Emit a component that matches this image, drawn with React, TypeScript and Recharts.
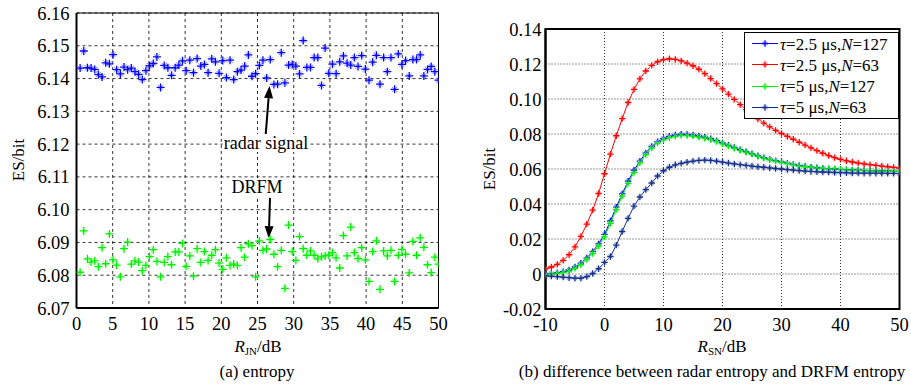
import React from "react";
import {
  ScatterChart,
  Scatter,
  LineChart,
  Line,
  XAxis,
  YAxis,
  CartesianGrid,
  ReferenceArea,
  ReferenceLine,
} from "recharts";

// (a) entropy of radar signal and DRFM vs R_JN
const RADAR_ES = [
  6.1432, 6.1484, 6.1433, 6.1432, 6.1428, 6.1412, 6.1405, 6.1448, 6.1445, 6.1473,
  6.1427, 6.1414, 6.1435, 6.1427, 6.1432, 6.1421, 6.1413, 6.1397, 6.1424, 6.1439,
  6.1446, 6.1466, 6.1373, 6.144, 6.1433, 6.141, 6.1433, 6.1441, 6.1454, 6.1424,
  6.1456, 6.1418, 6.1461, 6.1438, 6.1443, 6.1418, 6.146, 6.1451, 6.1416, 6.1455,
  6.1403, 6.1456, 6.1397, 6.1421, 6.1426, 6.1438, 6.1472, 6.1407, 6.1415, 6.144,
  6.1456, 6.1402, 6.1458, 6.1382, 6.1383, 6.1479, 6.1387, 6.1441, 6.1443, 6.1438,
  6.1414, 6.1516, 6.1434, 6.1434, 6.1464, 6.1464, 6.1379, 6.1493, 6.1416, 6.1444,
  6.1415, 6.1451, 6.1469, 6.1447, 6.1441, 6.1464, 6.1437, 6.147, 6.1429, 6.1395,
  6.145, 6.1471, 6.1383, 6.1464, 6.1421, 6.1464, 6.1367, 6.1475, 6.1443, 6.1455,
  6.1408, 6.1458, 6.1458, 6.1472, 6.1408, 6.1428, 6.1437, 6.1421, 6.1395,
];

const DRFM_ES = [
  6.0809, 6.0935, 6.085, 6.084, 6.0844, 6.0826, 6.0884, 6.0835, 6.0926, 6.0847,
  6.0831, 6.0795, 6.0881, 6.0901, 6.0834, 6.0844, 6.084, 6.0814, 6.083, 6.0857,
  6.0878, 6.0842, 6.0795, 6.0839, 6.0857, 6.0832, 6.0871, 6.0871, 6.0897, 6.0827,
  6.0859, 6.0797, 6.0881, 6.0839, 6.0872, 6.0845, 6.0861, 6.0878, 6.0837, 6.0818,
  6.0853, 6.083, 6.0834, 6.083, 6.0884, 6.0855, 6.0896, 6.089, 6.0795, 6.0905,
  6.0876, 6.088, 6.0909, 6.0864, 6.0826, 6.0876, 6.076, 6.0953, 6.0872, 6.0845,
  6.0918, 6.0881, 6.0861, 6.0874, 6.0861, 6.085, 6.0856, 6.0859, 6.0861, 6.0869,
  6.0853, 6.0822, 6.0921, 6.0859, 6.0947, 6.0869, 6.0851, 6.0884, 6.0847, 6.0781,
  6.0872, 6.0905, 6.0757, 6.0874, 6.0859, 6.0876, 6.0781, 6.0861, 6.0879, 6.0864,
  6.0807, 6.0903, 6.0861, 6.0914, 6.0885, 6.0832, 6.0808, 6.0855, 6.0834,
];

const RJN_TICKS = [0, 5, 10, 15, 20, 25, 30, 35, 40, 45, 50];
const ENTROPY_TICKS = [6.07, 6.08, 6.09, 6.1, 6.11, 6.12, 6.13, 6.14, 6.15, 6.16];

// sample positions along R_JN (0.5 dB .. 50 dB)
const RJN = RADAR_ES.map((_, i) => 0.5 + (i * 49.5) / (RADAR_ES.length - 1));

// (b) difference between radar entropy and DRFM entropy vs R_SN
const RSN = [
  -10, -9, -8, -7, -6, -5, -4, -3, -2, -1, 0, 1, 2, 3, 4, 5, 6, 7, 8, 9, 10, 11, 12,
  13, 14, 15, 16, 17, 18, 19, 20, 21, 22, 23, 24, 25, 26, 27, 28, 29, 30, 31, 32, 33,
  34, 35, 36, 37, 38, 39, 40, 41, 42, 43, 44, 45, 46, 47, 48, 49, 50,
];

const T25_N127 = [
  0.0, 0.0003, 0.0007, 0.0013, 0.0023, 0.004, 0.0062, 0.0092, 0.0128, 0.0172,
  0.0226, 0.0303, 0.0382, 0.0458, 0.053, 0.0593, 0.0645, 0.0692, 0.0729, 0.0756,
  0.0775, 0.0787, 0.0795, 0.0799, 0.0798, 0.0795, 0.0789, 0.0782, 0.0773, 0.0762,
  0.0749, 0.0736, 0.0723, 0.0711, 0.0699, 0.0687, 0.0676, 0.0665, 0.0656, 0.0648,
  0.064, 0.0633, 0.0626, 0.062, 0.0615, 0.0611, 0.0607, 0.0604, 0.0602, 0.06,
  0.0598, 0.0596, 0.0595, 0.0593, 0.0592, 0.0591, 0.059, 0.0589, 0.0588, 0.0587,
  0.0586,
];

const T25_N63 = [
  0.003, 0.004, 0.0055, 0.0078, 0.011, 0.0155, 0.0215, 0.0285, 0.0365, 0.046,
  0.0573, 0.0685, 0.079, 0.0888, 0.098, 0.1055, 0.1115, 0.116, 0.1192, 0.1213,
  0.1225, 0.123, 0.1226, 0.1218, 0.1205, 0.119, 0.117, 0.1145, 0.1117, 0.1088,
  0.1058, 0.1028, 0.0998, 0.0968, 0.0939, 0.0912, 0.0886, 0.0862, 0.0841, 0.0821,
  0.0803, 0.0786, 0.077, 0.0753, 0.0737, 0.0721, 0.0705, 0.069, 0.0677, 0.0665,
  0.0655, 0.0647, 0.064, 0.0634, 0.0629, 0.0625, 0.0621, 0.0617, 0.0613, 0.0609,
  0.0605,
];

const T5_N127 = [
  -0.0004, 0.0, 0.0004, 0.0009, 0.0017, 0.0033, 0.0053, 0.0083, 0.0117, 0.016,
  0.0212, 0.029, 0.0368, 0.0445, 0.0518, 0.058, 0.0635, 0.0683, 0.072, 0.0748,
  0.0767, 0.0779, 0.0787, 0.0792, 0.0791, 0.0788, 0.0783, 0.0776, 0.0768, 0.0757,
  0.0744, 0.0731, 0.0719, 0.0707, 0.0696, 0.0685, 0.0673, 0.0662, 0.0653, 0.0645,
  0.0638, 0.0631, 0.0624, 0.0618, 0.0613, 0.0609, 0.0605, 0.0603, 0.0601, 0.0599,
  0.0597, 0.0595, 0.0593, 0.0592, 0.0591, 0.059, 0.0589, 0.0588, 0.0587, 0.0586,
  0.0585,
];

const T5_N63 = [
  -0.001, -0.0012, -0.0015, -0.0018, -0.0021, -0.0024, -0.0024, -0.0015, 0.0003, 0.003,
  0.0066, 0.01, 0.0165, 0.0243, 0.0318, 0.0388, 0.044, 0.0482, 0.052, 0.056,
  0.059, 0.061, 0.0624, 0.0632, 0.0639, 0.0645, 0.0649, 0.0651, 0.0649, 0.0645,
  0.0639, 0.0634, 0.0629, 0.0625, 0.0621, 0.0617, 0.0613, 0.061, 0.0606, 0.0603,
  0.06, 0.0597, 0.0594, 0.0591, 0.0588, 0.0586, 0.0584, 0.0583, 0.0582, 0.058,
  0.0579, 0.0578, 0.0577, 0.0577, 0.0576, 0.0576, 0.0576, 0.0576, 0.0575, 0.0575,
  0.0574,
];

const RSN_TICKS = [-10, 0, 10, 20, 30, 40, 50];
const DIFF_TICKS = [-0.02, 0, 0.02, 0.04, 0.06, 0.08, 0.1, 0.12, 0.14];

// drawing order matters: green sits on top of blue
const SERIES = [
  { key: "a", tau: "2.5", n: "127", values: T25_N127, color: "#0000ff", halo: "#8080ff" },
  { key: "b", tau: "2.5", n: "63", values: T25_N63, color: "#ff0000", halo: "#ff8a8a" },
  { key: "c", tau: "5", n: "127", values: T5_N127, color: "#00ee00", halo: "#90ff90" },
  { key: "d", tau: "5", n: "63", values: T5_N63, color: "#14308f", halo: "#7f8fc4" },
];

const diffData = RSN.map((x, i) => {
  const row: Record<string, number> = { x };
  SERIES.forEach((s) => (row[s.key] = s.values[i]));
  return row;
});

const radarData = RADAR_ES.map((y, i) => ({ x: RJN[i], y }));
const drfmData = DRFM_ES.map((y, i) => ({ x: RJN[i], y }));

const FONT = '"Liberation Serif", "Times New Roman", serif';

const CSS = `
.recharts-cartesian-axis-tick-value, .recharts-cartesian-axis-tick text {
  font-family: "Liberation Serif", "Times New Roman", serif !important;
  font-size: 18.5px !important;
  fill: #000 !important;
}
`;

const fmtLeft = (v: number) => v.toFixed(2);
const fmtRight = (v: number) => (v === 0 ? "0" : v.toFixed(2));

function Star({ cx, cy, color, halo, r }: any) {
  if (cx == null || cy == null) return null;
  const d = r * 0.65;
  return (
    <g>
      <path
        d={`M${cx - d},${cy - d}L${cx + d},${cy + d}M${cx - d},${cy + d}L${cx + d},${cy - d}`}
        stroke={halo}
        strokeWidth={1}
      />
      <path
        d={`M${cx - r},${cy}H${cx + r}M${cx},${cy - r}V${cy + r}`}
        stroke={color}
        strokeWidth={1.3}
      />
    </g>
  );
}

function arrowShape(p: any) {
  const { x1, y1, x2, y2 } = p;
  if ([x1, y1, x2, y2].some((v) => v == null || isNaN(v))) return null;
  const ang = Math.atan2(y2 - y1, x2 - x1);
  const L = 12;
  const W = 4.5;
  const bx = x2 - L * Math.cos(ang);
  const by = y2 - L * Math.sin(ang);
  const px = -Math.sin(ang) * W;
  const py = Math.cos(ang) * W;
  return (
    <g>
      <line x1={x1} y1={y1} x2={bx} y2={by} stroke="#000" strokeWidth={2} />
      <polygon points={`${x2},${y2} ${bx + px},${by + py} ${bx - px},${by - py}`} fill="#000" />
    </g>
  );
}

const RADAR_ARROW = [
  { x: 26.13, y: 6.1228 },
  { x: 26.66, y: 6.1377 },
];
const DRFM_ARROW = [
  { x: 26.73, y: 6.1036 },
  { x: 26.55, y: 6.0913 },
];

const abs = (left: number, top: number, extra: React.CSSProperties = {}): React.CSSProperties => ({
  position: "absolute",
  left,
  top,
  transform: "translate(-50%, -50%)",
  whiteSpace: "nowrap",
  fontSize: 17,
  lineHeight: 1,
  ...extra,
});

export default function App() {
  return (
    <div
      style={{
        position: "absolute",
        left: 0,
        top: 0,
        width: 911,
        height: 385,
        background: "#fff",
        fontFamily: FONT,
        color: "#000",
        overflow: "hidden",
      }}
    >
      <style>{CSS}</style>
      <div style={{ position: "absolute", left: 0, top: 0 }}>
        <ScatterChart width={460} height={350} margin={{ top: 13, right: 21.5, bottom: 12, left: 0 }}>
          <CartesianGrid stroke="#000" strokeDasharray="3 3" strokeWidth={0.8} />
          <XAxis
            type="number"
            dataKey="x"
            domain={[0, 50]}
            ticks={RJN_TICKS}
            tickLine={false}
            tickSize={6}
            tickMargin={3}
            axisLine={{ stroke: "#000", strokeWidth: 2 }}
            allowDataOverflow
          />
          <YAxis
            type="number"
            dataKey="y"
            domain={[6.07, 6.16]}
            ticks={ENTROPY_TICKS}
            tickFormatter={fmtLeft}
            tickLine={false}
            tickSize={5}
            tickMargin={2}
            width={76.5}
            axisLine={{ stroke: "#000", strokeWidth: 2 }}
            allowDataOverflow
          />
          <ReferenceArea x1={0} x2={50} y1={6.07} y2={6.16} fill="none" stroke="#000" strokeWidth={1} />
          <Scatter
            data={radarData}
            isAnimationActive={false}
            shape={(p: any) => <Star cx={p.cx} cy={p.cy} color="#0000ff" halo="#8080ff" r={4} />}
          />
          <Scatter
            data={drfmData}
            isAnimationActive={false}
            shape={(p: any) => <Star cx={p.cx} cy={p.cy} color="#00ee00" halo="#90ff90" r={4} />}
          />
          <ReferenceLine segment={RADAR_ARROW} shape={arrowShape} />
          <ReferenceLine segment={DRFM_ARROW} shape={arrowShape} />
        </ScatterChart>
      </div>

      <div style={{ position: "absolute", left: 460, top: 0 }}>
        <LineChart width={451} height={350} data={diffData} margin={{ top: 29, right: 11.5, bottom: 11, left: 0 }}>
          <CartesianGrid stroke="#000" strokeDasharray="1 2" strokeWidth={0.8} />
          <XAxis
            type="number"
            dataKey="x"
            domain={[-10, 50]}
            ticks={RSN_TICKS}
            tickLine={false}
            tickSize={6}
            tickMargin={3}
            axisLine={{ stroke: "#000", strokeWidth: 2 }}
            allowDataOverflow
          />
          <YAxis
            type="number"
            domain={[-0.02, 0.14]}
            ticks={DIFF_TICKS}
            tickFormatter={fmtRight}
            tickLine={false}
            tickSize={3}
            tickMargin={1}
            width={85.5}
            axisLine={{ stroke: "#000", strokeWidth: 2 }}
            allowDataOverflow
          />
          <ReferenceArea x1={-10} x2={50} y1={-0.02} y2={0.14} fill="none" stroke="#000" strokeWidth={2} />
          {SERIES.map((s) => (
            <Line
              key={s.key}
              dataKey={s.key}
              stroke={s.color}
              strokeWidth={1}
              isAnimationActive={false}
              dot={(p: any) => (
                <Star key={`${s.key}-${p.index}`} cx={p.cx} cy={p.cy} color={s.color} halo={s.halo} r={3.2} />
              )}
              activeDot={false}
            />
          ))}
        </LineChart>
      </div>

      {/* annotations, axis titles and captions */}
      <div style={abs(266, 143, { fontSize: 18, background: "#fff", padding: "0 1px" })}>radar signal</div>
      <div style={abs(257, 187, { fontSize: 18, background: "#fff", padding: "0 1px" })}>DRFM</div>

      <div style={abs(18, 160, { transform: "translate(-50%, -50%) rotate(-90deg)" })}>ES/bit</div>
      <div style={abs(489, 169, { transform: "translate(-50%, -50%) rotate(-90deg)" })}>ES/bit</div>

      <div style={abs(258, 347)}>
        <i>R</i>
        <span style={{ fontSize: 11, verticalAlign: -3 }}>JN</span>/dB
      </div>
      <div style={abs(722, 347)}>
        <i>R</i>
        <span style={{ fontSize: 11, verticalAlign: -3 }}>SN</span>/dB
      </div>
      <div style={abs(257, 371)}>(a) entropy</div>
      <div style={abs(712, 371)}>(b) difference between radar entropy and DRFM entropy</div>

      <div
        style={{
          position: "absolute",
          left: 744,
          top: 32,
          width: 155,
          height: 87,
          boxSizing: "border-box",
          border: "1px solid #000",
          background: "#fff",
        }}
      >
        {SERIES.map((s, i) => (
          <div
            key={s.key}
            style={{
              position: "absolute",
              left: 6,
              top: 10.5 + i * 21.3,
              transform: "translateY(-50%)",
              display: "flex",
              alignItems: "center",
              whiteSpace: "nowrap",
              fontSize: 17,
              lineHeight: 1,
            }}
          >
            <svg width={28} height={10} style={{ marginRight: 1 }}>
              <line x1={1} y1={5} x2={27} y2={5} stroke={s.color} strokeWidth={1} />
              <Star cx={14} cy={5} color={s.color} halo={s.halo} r={3.2} />
            </svg>
            <span>
              <i>τ</i>={s.tau} μs,<i>N</i>={s.n}
            </span>
          </div>
        ))}
      </div>
    </div>
  );
}
